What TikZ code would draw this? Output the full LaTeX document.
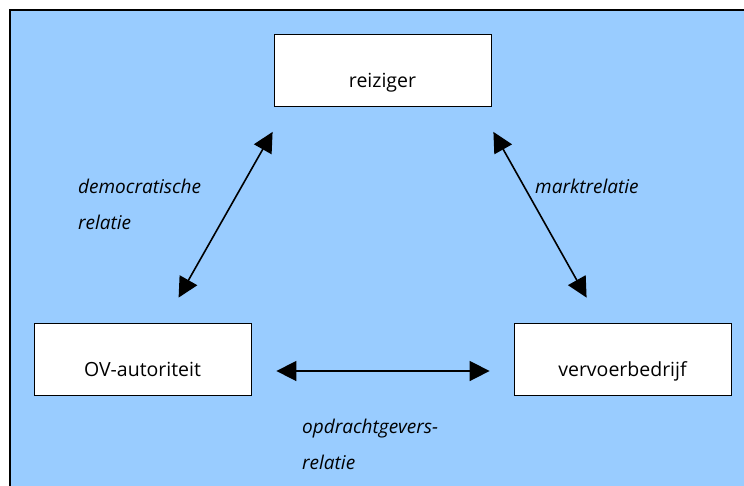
\documentclass[tikz,border=0pt]{standalone}
\usepackage{fontspec}
\setmainfont{Open Sans}
\usepackage{tikz}
\usetikzlibrary{arrows.meta,positioning}

\definecolor{skyblue}{HTML}{99CCFF}

\begin{document}
\begin{tikzpicture}[x=1pt,y=-1pt,
  actor/.style={draw,thick,fill=white,minimum width=217pt,minimum height=72pt,
    inner sep=0pt,text height=53pt,text depth=19pt,font=\fontsize{19.5}{22}\selectfont},
  rel/.style={align=left,anchor=north west,inner sep=0pt,
    font=\fontsize{19}{36}\selectfont\itshape},
  link/.style={{Triangle[length=20pt,width=20pt]}-{Triangle[length=20pt,width=20pt]},line width=1.6pt}]
\useasboundingbox (0,0) rectangle (744,485);
\fill[white] (0,0) rectangle (744,485);
\draw[line width=2pt,fill=skyblue] (10,10) rectangle (780,520);
\node[actor] (reiziger) at (382.5,70.5) {reiziger};
\node[actor] (ov) at (142.5,359) {OV-autoriteit};
\node[actor] (vervoer) at (622.5,359) {vervoerbedrijf};
% eindpunten van de pijlen
\coordinate (rsw) at ([xshift=-1pt,yshift=-25pt]reiziger.south west);
\coordinate (rse) at ([xshift=2pt,yshift=-25pt]reiziger.south east);
\coordinate (ovn) at ([xshift=145pt,yshift=25pt]ov.north west);
\coordinate (ove) at ([xshift=25pt,yshift=-12pt]ov.east);
\coordinate (vbn) at ([xshift=73pt,yshift=25pt]vervoer.north west);
\coordinate (vbw) at ([xshift=-24pt,yshift=-12pt]vervoer.west);
\draw[link] (rsw) -- (ovn);
\draw[link] (rse) -- (vbn);
\draw[link] (ove) -- (vbw);
\node[rel] (demo) at (78,179) {democratische\\relatie};
\node[rel] (markt) at (535,179) {marktrelatie};
\node[rel] (opdr) at (302,419) {opdrachtgevers-\\relatie};
\end{tikzpicture}
\end{document}
